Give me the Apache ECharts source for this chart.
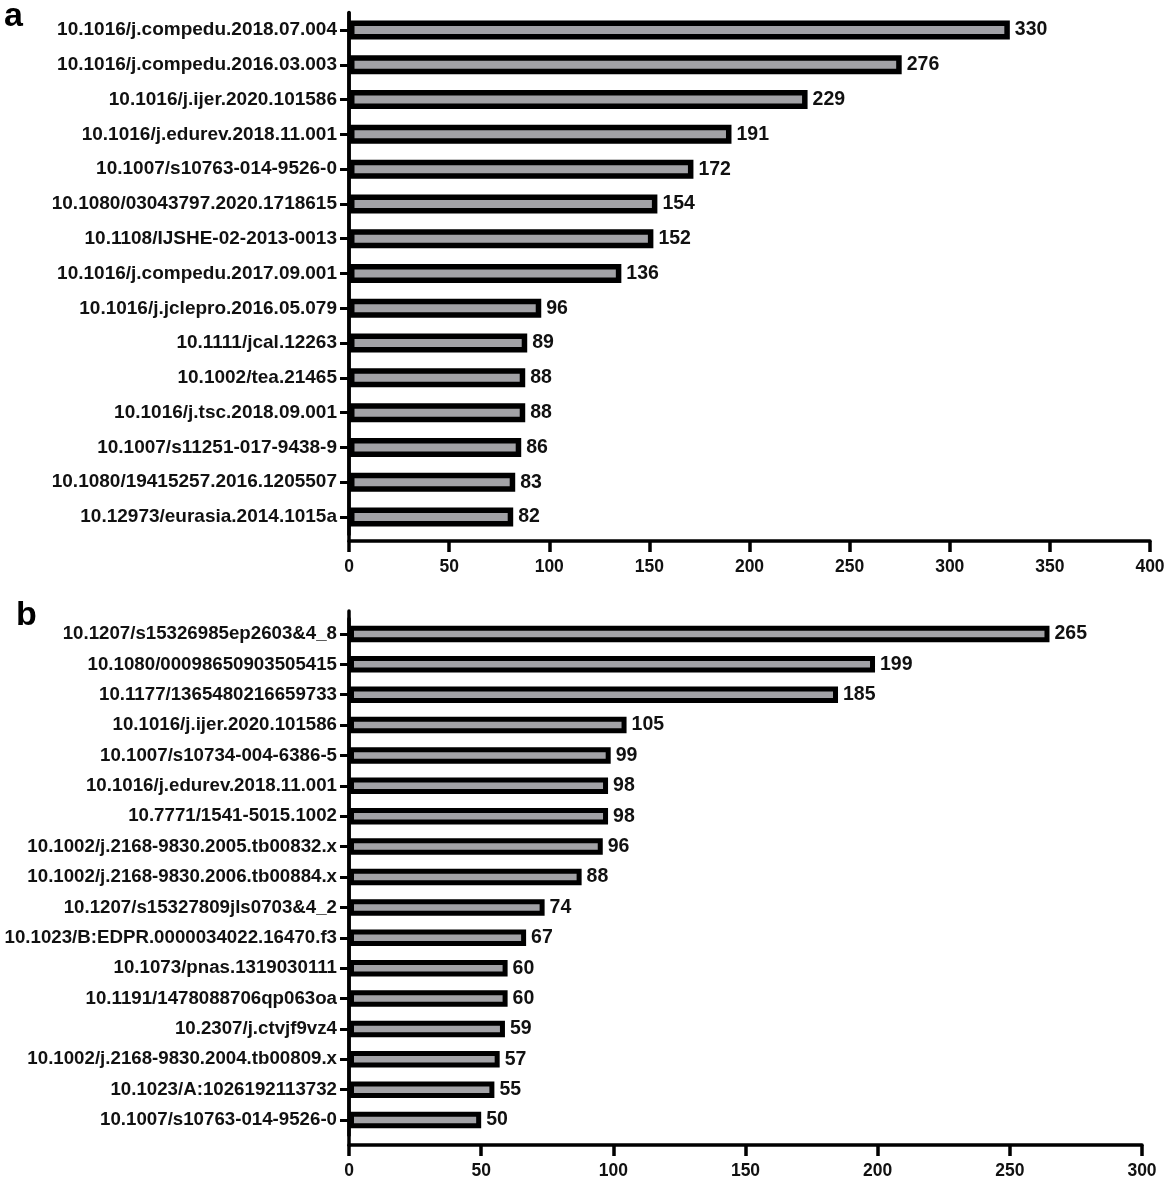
<!DOCTYPE html>
<html>
<head>
<meta charset="utf-8">
<script src="https://cdn.jsdelivr.net/npm/echarts@6/dist/echarts.min.js"></script>
<style>
  html, body { margin: 0; padding: 0; background: #fff; }
  #chart { width: 1169px; height: 1178px; }
</style>
</head>
<body>
<div id="chart"></div>
<script>
// panel a
const topCats = [
    '10.1016/j.compedu.2018.07.004',
    '10.1016/j.compedu.2016.03.003',
    '10.1016/j.ijer.2020.101586',
    '10.1016/j.edurev.2018.11.001',
    '10.1007/s10763-014-9526-0',
    '10.1080/03043797.2020.1718615',
    '10.1108/IJSHE-02-2013-0013',
    '10.1016/j.compedu.2017.09.001',
    '10.1016/j.jclepro.2016.05.079',
    '10.1111/jcal.12263',
    '10.1002/tea.21465',
    '10.1016/j.tsc.2018.09.001',
    '10.1007/s11251-017-9438-9',
    '10.1080/19415257.2016.1205507',
    '10.12973/eurasia.2014.1015a'
];
const topVals = [330, 276, 229, 191, 172, 154, 152, 136, 96, 89, 88, 88, 86, 83, 82];
const topMax = 400;

// panel b
const botCats = [
    '10.1207/s15326985ep2603&4_8',
    '10.1080/00098650903505415',
    '10.1177/1365480216659733',
    '10.1016/j.ijer.2020.101586',
    '10.1007/s10734-004-6386-5',
    '10.1016/j.edurev.2018.11.001',
    '10.7771/1541-5015.1002',
    '10.1002/j.2168-9830.2005.tb00832.x',
    '10.1002/j.2168-9830.2006.tb00884.x',
    '10.1207/s15327809jls0703&4_2',
    '10.1023/B:EDPR.0000034022.16470.f3',
    '10.1073/pnas.1319030111',
    '10.1191/1478088706qp063oa',
    '10.2307/j.ctvjf9vz4',
    '10.1002/j.2168-9830.2004.tb00809.x',
    '10.1023/A:1026192113732',
    '10.1007/s10763-014-9526-0'
];
const botVals = [265, 199, 185, 105, 99, 98, 98, 96, 88, 74, 67, 60, 60, 59, 57, 55, 50];
const botMax = 300;
const tickStep = 50;

const FONT = '"Liberation Sans", Arial, sans-serif';
const AXIS_W = 3.5;

const chart = echarts.init(document.getElementById('chart'));

function barAxisY(cats, gridIndex, fs) {
    return {
        type: 'category', gridIndex, data: cats, inverse: true,
        axisLine: { show: true, lineStyle: { color: '#000', width: AXIS_W } },
        axisTick: { show: true, alignWithLabel: true, interval: 0, length: 9, lineStyle: { color: '#000', width: 3 } },
        axisLabel: { interval: 0, margin: 12, color: '#111', fontFamily: FONT, fontWeight: 'bold', fontSize: fs },
        splitLine: { show: false }
    };
}
function frameY(gridIndex) {
    return {
        type: 'value', gridIndex, min: 0, max: 1,
        axisLine: { show: true, onZero: false, lineStyle: { color: '#000', width: AXIS_W } },
        axisTick: { show: false }, axisLabel: { show: false }, splitLine: { show: false }
    };
}
function hiddenX(max, gridIndex) {
    return { type: 'value', gridIndex, min: 0, max, show: false, splitLine: { show: false } };
}
function frameX(max, gridIndex) {
    return {
        type: 'value', gridIndex, min: 0, max, interval: tickStep,
        axisLine: { show: true, onZero: false, lineStyle: { color: '#000', width: AXIS_W } },
        axisTick: { show: true, length: 11, lineStyle: { color: '#000', width: AXIS_W } },
        axisLabel: { margin: 17, color: '#111', fontFamily: FONT, fontWeight: 'bold', fontSize: 17.5 },
        splitLine: { show: false }
    };
}
function barSeries(vals, idx, bw, border) {
    return {
        type: 'bar', xAxisIndex: idx, yAxisIndex: idx, data: vals,
        barWidth: bw,
        itemStyle: { color: '#a2a2a6', borderColor: '#000', borderWidth: border },
        label: {
            show: true, position: 'right', distance: 5,
            color: '#111', fontFamily: FONT, fontWeight: 'bold', fontSize: 19.5
        },
        silent: true
    };
}

const option = {
    backgroundColor: '#fff',
    animation: false,
    grid: [
        { left: 349, right: 19, top: 12.6, height: 521.8, outerBoundsMode: 'none' },
        { left: 349, right: 19, top: 13, height: 528, outerBoundsMode: 'none' },
        { left: 349, right: 27, top: 618.8, height: 516.4, outerBoundsMode: 'none' },
        { left: 349, right: 27, top: 611, height: 534, outerBoundsMode: 'none' }
    ],
    xAxis: [hiddenX(topMax, 0), frameX(topMax, 1), hiddenX(botMax, 2), frameX(botMax, 3)],
    yAxis: [barAxisY(topCats, 0, 19), frameY(1), barAxisY(botCats, 2, 18.7), frameY(3)],
    series: [barSeries(topVals, 0, 19, 5.5), barSeries(botVals, 2, 16.5, 5)],
    graphic: [
        { type: 'text', left: 4, top: 0, style: { text: 'a', font: 'bold 34px ' + FONT, fill: '#000' } },
        { type: 'text', left: 16, top: 599, style: { text: 'b', font: 'bold 34px ' + FONT, fill: '#000' } }
    ]
};

chart.setOption(option);
</script>
</body>
</html>
